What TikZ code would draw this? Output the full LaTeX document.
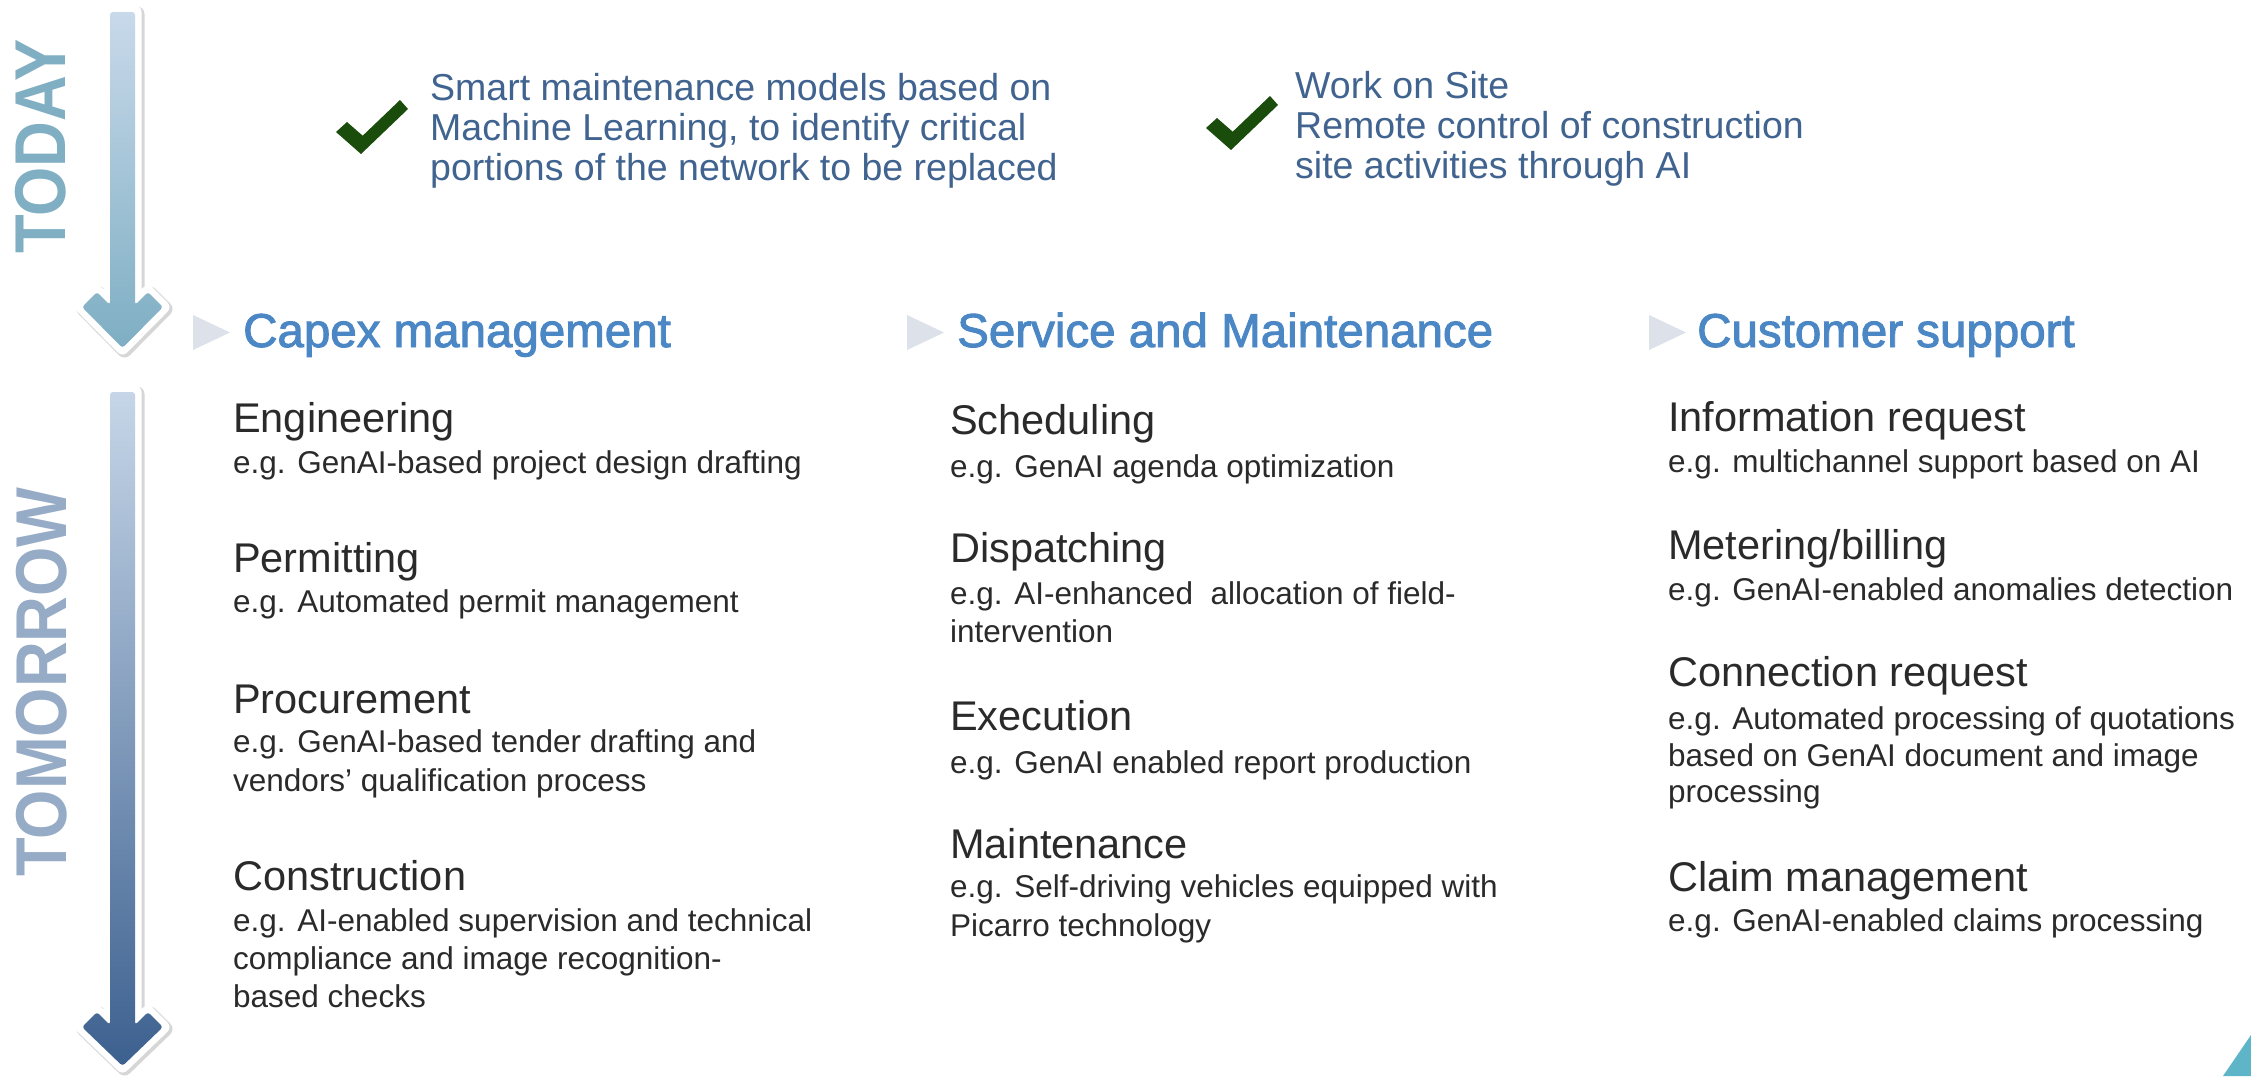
\documentclass[tikz,border=0pt]{standalone}
\usepackage{fontspec}
\setmainfont{Liberation Sans}
\newfontfamily\headfont[FakeBold=2]{Liberation Sans}
\newfontfamily\sidefont[FakeStretch=0.88]{Liberation Sans Bold}
\definecolor{headcol}{HTML}{4B87C5}
\definecolor{tricol}{HTML}{DCE1EA}
\definecolor{chkcol}{HTML}{40638F}
\definecolor{txtcol}{HTML}{2A2A2A}
\definecolor{greencol}{HTML}{1A4D0B}
\definecolor{todaycol}{HTML}{80AFC4}
\definecolor{tomcol}{HTML}{95ABC6}
\definecolor{tealcol}{HTML}{5FB5C8}
\definecolor{atop}{HTML}{C8D9EA}
\definecolor{abot}{HTML}{7EAEC3}
\definecolor{btop}{HTML}{C6D6E8}
\definecolor{bmid}{HTML}{7A96B9}
\definecolor{bbot}{HTML}{3C608F}
\begin{document}
\begin{tikzpicture}[x=1pt,y=-1pt,
  ttl/.style={anchor=base west, inner sep=0pt, text=txtcol, font=\fontsize{41.5}{48}\selectfont},
  sub/.style={anchor=base west, inner sep=0pt, text=txtcol, font=\fontsize{31.5}{38}\selectfont},
  head/.style={anchor=base west, inner sep=0pt, text=headcol, font=\headfont\fontsize{47.5}{56}\selectfont},
  chk/.style={anchor=base west, inner sep=0pt, text=chkcol, font=\fontsize{37.5}{40}\selectfont},
  side/.style={rotate=90, inner sep=0pt, font=\sidefont\fontsize{72}{80}\selectfont},
  headtri/.style={fill=tricol},
  checkmark/.style={fill=greencol},
  arrshadow/.style={draw=black!45, fill=black!45, opacity=0.35, line width=15pt, line join=round},
  arrborder/.style={draw=white, fill=white, line width=13pt, line join=round}
]
\useasboundingbox (0,0) rectangle (2251,1076);
\fill[white] (0,0) rectangle (2251,1076);

% ---------- TODAY arrow ----------
\begin{scope}[shift={(2,2)}]
\path[arrshadow] (110,12) -- (110,305) -- (97,292) -- (82,307) -- (122.5,348) -- (163,307) -- (148,292) -- (135,305) -- (135,12) -- cycle;
\end{scope}
\path[arrborder] (110,12) -- (110,305) -- (97,292) -- (82,307) -- (122.5,348) -- (163,307) -- (148,292) -- (135,305) -- (135,12) -- cycle;
\shade[top color=atop, bottom color=abot, rounded corners=3pt] (110,12) -- (110,305) -- (97,292) -- (82,307) -- (122.5,348) -- (163,307) -- (148,292) -- (135,305) -- (135,12) -- cycle;
\node[side, text=todaycol] (today) at (41,146.5) {TODAY};

% ---------- TOMORROW arrow ----------
\begin{scope}[shift={(2,2)}]
\path[arrshadow] (110,392) -- (110,1025) -- (97,1012) -- (82,1027) -- (122.5,1066) -- (163,1027) -- (148,1012) -- (135,1025) -- (135,392) -- cycle;
\end{scope}
\path[arrborder] (110,392) -- (110,1025) -- (97,1012) -- (82,1027) -- (122.5,1066) -- (163,1027) -- (148,1012) -- (135,1025) -- (135,392) -- cycle;
\shade[top color=btop, middle color=bmid, bottom color=bbot, rounded corners=3pt] (110,392) -- (110,1025) -- (97,1012) -- (82,1027) -- (122.5,1066) -- (163,1027) -- (148,1012) -- (135,1025) -- (135,392) -- cycle;
\node[side, text=tomcol] (tomorrow) at (42,682) {TOMORROW};

% ---------- check marks and today texts ----------
\fill[checkmark] (336,132) -- (347,122) -- (362.7,135.7) -- (400,100) -- (408,109) -- (361,154) -- cycle;
\fill[checkmark] (1206,128) -- (1217,118) -- (1232.7,131.7) -- (1270,96) -- (1278,105) -- (1231,150) -- cycle;

\node[chk] (c1a) at (430,100) {Smart maintenance models based on};
\node[chk] (c1b) at (430,140) {Machine Learning, to identify critical};
\node[chk] (c1c) at (430,180) {portions of the network to be replaced};

\node[chk] (c2a) at (1295,98) {Work on Site};
\node[chk] (c2b) at (1295,138) {Remote control of construction};
\node[chk] (c2c) at (1295,178) {site activities through AI};

% ---------- headings ----------
\fill[headtri] (193,315) -- (230,332.5) -- (193,350) -- cycle;
\fill[headtri] (907,315) -- (944,332.5) -- (907,350) -- cycle;
\fill[headtri] (1649,315) -- (1686,332.5) -- (1649,350) -- cycle;
\node[head] (h1) at (243,347) {Capex management};
\node[head] (h2) at (957,347) {Service and Maintenance};
\node[head] (h3) at (1697,347) {Customer support};

% ---------- left column ----------
\node[ttl] (eng) at (233,432) {Engineering};
\node[sub] (engs) at (233,473) {e.g. GenAI-based project design drafting};
\node[ttl] (perm) at (233,572) {Permitting};
\node[sub] (perms) at (233,612) {e.g. Automated permit management};
\node[ttl] (proc) at (233,713) {Procurement};
\node[sub] (procs1) at (233,752) {e.g. GenAI-based tender drafting and};
\node[sub] (procs2) at (233,791) {vendors’ qualification process};
\node[ttl] (cons) at (233,890) {Construction};
\node[sub] (conss1) at (233,931) {e.g. AI-enabled supervision and technical};
\node[sub] (conss2) at (233,969) {compliance and image recognition-};
\node[sub] (conss3) at (233,1007) {based checks};

% ---------- middle column ----------
\node[ttl] (sch) at (950,434) {Scheduling};
\node[sub] (schs) at (950,477) {e.g. GenAI agenda optimization};
\node[ttl] (dis) at (950,562) {Dispatching};
\node[sub] (diss1) at (950,604) {e.g. AI-enhanced\ \ allocation of field-};
\node[sub] (diss2) at (950,642) {intervention};
\node[ttl] (exe) at (950,730) {Execution};
\node[sub] (exes) at (950,773) {e.g. GenAI enabled report production};
\node[ttl] (mai) at (950,858) {Maintenance};
\node[sub] (mais1) at (950,897) {e.g. Self-driving vehicles equipped with};
\node[sub] (mais2) at (950,936) {Picarro technology};

% ---------- right column ----------
\node[ttl] (inf) at (1668,431) {Information request};
\node[sub] (infs) at (1668,472) {e.g. multichannel support based on AI};
\node[ttl] (met) at (1668,559) {Metering/billing};
\node[sub] (mets) at (1668,600) {e.g. GenAI-enabled anomalies detection};
\node[ttl] (con) at (1668,686) {Connection request};
\node[sub] (cons1) at (1668,729) {e.g. Automated processing of quotations};
\node[sub] (cons2) at (1668,766) {based on GenAI document and image};
\node[sub] (cons3) at (1668,802) {processing};
\node[ttl] (cla) at (1668,891) {Claim management};
\node[sub] (clas) at (1668,931) {e.g. GenAI-enabled claims processing};

% ---------- corner ----------
\fill[tealcol] (2223,1076) -- (2251,1035) -- (2251,1076) -- cycle;
\end{tikzpicture}
\end{document}
